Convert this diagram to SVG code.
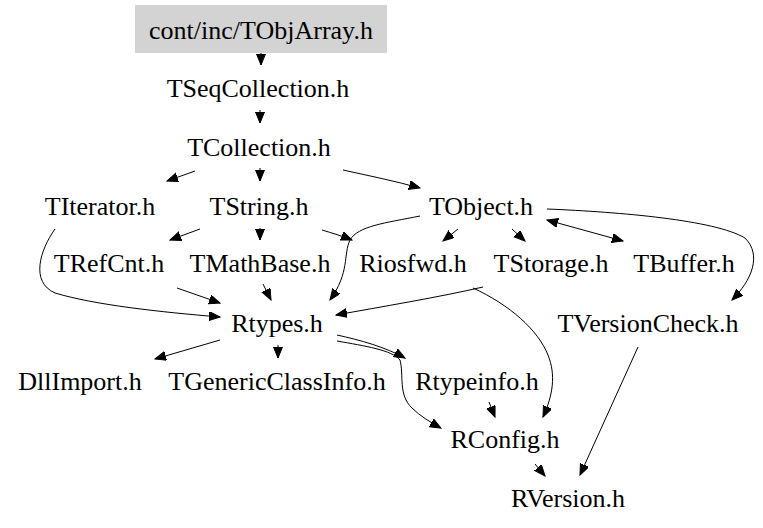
<svg xmlns="http://www.w3.org/2000/svg" width="763" height="528" viewBox="0 0 763 528">
<style>
text{font-family:'Liberation Serif','Times New Roman',serif;font-size:26px;fill:#000;text-anchor:middle}
.e{fill:none;stroke:#000;stroke-width:1}
</style>
<defs>
<marker id="a" markerUnits="userSpaceOnUse" markerWidth="12" markerHeight="10" refX="11" refY="4.5" orient="auto-start-reverse" viewBox="0 0 12 10">
<path d="M0,0 L11,4.5 L0,9 z" fill="#000" stroke="#000" stroke-width="1"/>
</marker>
</defs>
<rect width="763" height="528" fill="#fff"/>
<g id="edges">
<path class="e" marker-end="url(#a)" d="M261,53 L261,65"/>
<path class="e" marker-end="url(#a)" d="M260,110 L260,123"/>
<path class="e" marker-end="url(#a)" d="M195,171 L167,181"/>
<path class="e" marker-end="url(#a)" d="M260,168 L260,181"/>
<path class="e" marker-end="url(#a)" d="M343,170 C370,176 395,181 420,188"/>
<path class="e" marker-end="url(#a)" d="M55,229 C40,250 30,282 55,293 C95,305 160,312 220,317"/>
<path class="e" marker-end="url(#a)" d="M200,229 L170,240"/>
<path class="e" marker-end="url(#a)" d="M260,228 L260,240"/>
<path class="e" marker-end="url(#a)" d="M322,230 C332,233 342,236 352,240"/>
<path class="e" marker-end="url(#a)" d="M420,216 C385,223 358,226 350,240 C343,255 350,272 330,300"/>
<path class="e" marker-end="url(#a)" d="M458,229 L443,241"/>
<path class="e" marker-end="url(#a)" d="M512,229 L525,241"/>
<path class="e" marker-start="url(#a)" marker-end="url(#a)" d="M547,220 L623,241"/>
<path class="e" marker-end="url(#a)" d="M547,209 C620,212 715,220 745,238 C762,255 752,280 732,300"/>
<path class="e" marker-end="url(#a)" d="M177,288 L220,303"/>
<path class="e" marker-end="url(#a)" d="M263,284 L271,300"/>
<path class="e" marker-end="url(#a)" d="M483,287 C440,297 380,307 336,315"/>
<path class="e" marker-end="url(#a)" d="M473,288 C510,305 538,330 548,355 C556,375 553,395 543,417"/>
<path class="e" marker-end="url(#a)" d="M638,347 L580,475"/>
<path class="e" marker-end="url(#a)" d="M220,340 L155,359"/>
<path class="e" marker-end="url(#a)" d="M278,345 L278,358"/>
<path class="e" marker-end="url(#a)" d="M337,335 C360,340 385,347 405,358"/>
<path class="e" marker-end="url(#a)" d="M337,341 C365,346 392,350 400,360 C404,375 398,395 412,408 C420,416 430,422 441,428"/>
<path class="e" marker-end="url(#a)" d="M489,402 L495,417"/>
<path class="e" marker-end="url(#a)" d="M535,464 L545,476"/>
</g>
<g id="nodes">
<g id="n_TObjArray"><rect x="135" y="5" width="252" height="48" fill="#d3d3d3"/><text x="261" y="39">cont/inc/TObjArray.h</text></g>
<g id="n_TSeqCollection"><text x="258" y="97">TSeqCollection.h</text></g>
<g id="n_TCollection"><text x="259" y="156">TCollection.h</text></g>
<g id="n_TIterator"><text x="100" y="215">TIterator.h</text></g>
<g id="n_TString"><text x="259" y="215">TString.h</text></g>
<g id="n_TObject"><text x="481" y="215">TObject.h</text></g>
<g id="n_TRefCnt"><text x="109" y="272">TRefCnt.h</text></g>
<g id="n_TMathBase"><text x="260" y="272">TMathBase.h</text></g>
<g id="n_Riosfwd"><text x="413" y="272">Riosfwd.h</text></g>
<g id="n_TStorage"><text x="551" y="272">TStorage.h</text></g>
<g id="n_TBuffer"><text x="684" y="272">TBuffer.h</text></g>
<g id="n_Rtypes"><text x="277" y="332">Rtypes.h</text></g>
<g id="n_TVersionCheck"><text x="648" y="332">TVersionCheck.h</text></g>
<g id="n_DllImport"><text x="80" y="390">DllImport.h</text></g>
<g id="n_TGenericClassInfo"><text x="277" y="390">TGenericClassInfo.h</text></g>
<g id="n_Rtypeinfo"><text x="477" y="390">Rtypeinfo.h</text></g>
<g id="n_RConfig"><text x="505" y="448">RConfig.h</text></g>
<g id="n_RVersion"><text x="568" y="507">RVersion.h</text></g>
</g>
</svg>
